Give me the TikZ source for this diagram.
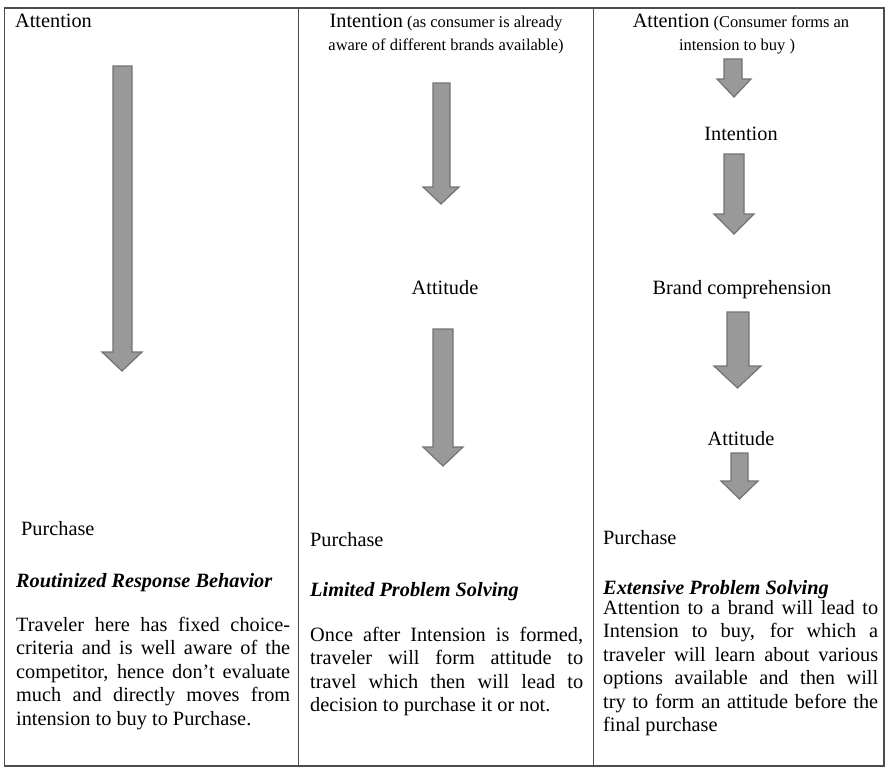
\documentclass[tikz,border=0pt]{standalone}
\usepackage{fontspec}
\setmainfont{Liberation Serif}
\usetikzlibrary{calc}

% block arrow pointing down: shaft left/right, head left/right, top, head base, tip
\newcommand\downblock[7]{%
  \draw[blockarrow] (#1,#5) -- (#2,#5) -- (#2,#6) -- (#4,#6) -- ({(#3+#4)/2},#7)
    -- (#3,#6) -- (#1,#6) -- cycle;}

\begin{document}
\begin{tikzpicture}[x=1pt,y=-1pt,
  blockarrow/.style={fill=black!40, draw=black!55, line width=1.2pt, line join=miter},
  grid/.style={draw=black!70, line width=1.4pt},
  txt/.style={inner sep=0pt, font=\fontsize{20.3}{24}\selectfont},
  small/.style={inner sep=0pt, font=\fontsize{16.5}{20}\selectfont},
  ln/.style={txt, anchor=base west},
  mid/.style={txt, anchor=base}]

\useasboundingbox (0,0) rectangle (885,768);
\fill[white] (0,0) rectangle (885,768);

% table frame and column rules
\draw[grid] (4.5,8) rectangle (884,766);
\draw[grid] (298.5,8) -- (298.5,766);
\draw[grid] (593.5,8) -- (593.5,766);

% ---------- column 1: routinized response ----------
\node[ln] (h1) at (15,28) {Attention};
\downblock{113}{132}{102}{142}{66}{352}{371}
\node[ln] (p1) at (21,535) {Purchase};
\node[ln] (t1) at (16,587) {\textbf{\textit{Routinized Response Behavior}}};
\node[ln] (a1) at (16,631) {\makebox[274pt][s]{Traveler here has fixed choice-}};
\node[ln] (a2) at (16,654.5) {\makebox[274pt][s]{criteria and is well aware of the}};
\node[ln] (a3) at (16,678) {\makebox[274pt][s]{competitor, hence don’t evaluate}};
\node[ln] (a4) at (16,701.5) {\makebox[274pt][s]{much and directly moves from}};
\node[ln] (a5) at (16,725) {intension to buy to Purchase.};

% ---------- column 2: limited problem solving ----------
\node[mid] (h2) at (446,28) {Intention{\fontsize{16.5}{20}\selectfont\ (as consumer is already}};
\node[small, anchor=base] (h2b) at (446,51) {aware of different brands available)};
\downblock{433}{450}{423}{459}{83}{187}{204}
\node[mid] (m2) at (445,294) {Attitude};
\downblock{433}{453}{423}{463}{329}{447}{466}
\node[ln] (p2) at (310,546) {Purchase};
\node[ln] (t2) at (310,596) {\textbf{\textit{Limited Problem Solving}}};
\node[ln] (b1) at (310,641) {\makebox[273pt][s]{Once after Intension is formed,}};
\node[ln] (b2) at (310,664.5) {\makebox[273pt][s]{traveler will form attitude to}};
\node[ln] (b3) at (310,688) {\makebox[273pt][s]{travel which then will lead to}};
\node[ln] (b4) at (310,711.5) {decision to purchase it or not.};

% ---------- column 3: extensive problem solving ----------
\node[mid] (h3) at (741,28) {Attention{\fontsize{16.5}{20}\selectfont\ (Consumer forms an}};
\node[small, anchor=base] (h3b) at (737,51) {intension to buy )};
\downblock{724}{742}{717}{751}{59}{79}{97}
\node[mid] (m3a) at (741,140) {Intention};
\downblock{724}{744}{714}{754}{154}{214}{234}
\node[mid] (m3b) at (742,294) {Brand comprehension};
\downblock{727}{749}{714}{761}{312}{366}{388}
\node[mid] (m3c) at (741,445) {Attitude};
\downblock{731}{748}{721}{758}{453}{481}{499}
\node[ln] (p3) at (603,544) {Purchase};
\node[ln] (t3) at (603,594) {\textbf{\textit{Extensive Problem Solving}}};
\node[ln] (c1) at (603,614) {\makebox[275pt][s]{Attention to a brand will lead to}};
\node[ln] (c2) at (603,637.5) {\makebox[275pt][s]{Intension to buy, for which a}};
\node[ln] (c3) at (603,661) {\makebox[275pt][s]{traveler will learn about various}};
\node[ln] (c4) at (603,684.5) {\makebox[275pt][s]{options available and then will}};
\node[ln] (c5) at (603,708) {\makebox[275pt][s]{try to form an attitude before the}};
\node[ln] (c6) at (603,731.5) {final purchase};

\end{tikzpicture}
\end{document}
